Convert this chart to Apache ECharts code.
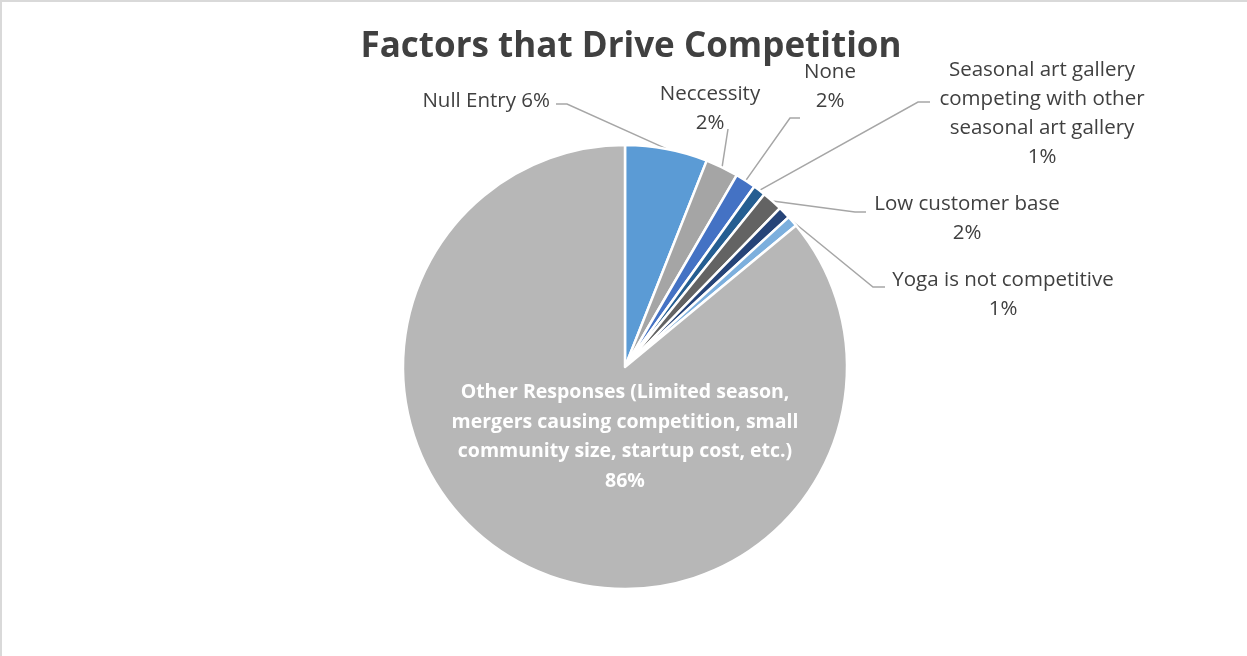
<!DOCTYPE html>
<html>
<head>
<meta charset="utf-8">
<script src="https://cdn.jsdelivr.net/npm/echarts@6/dist/echarts.min.js"></script>
<style>
html,body{margin:0;padding:0;background:#fff;}
#frame{position:absolute;left:0;top:0;width:1247px;height:656px;border-top:2px solid #d9d9d9;border-left:2px solid #d9d9d9;box-sizing:border-box;}
#chart{position:absolute;left:0;top:0;width:1247px;height:656px;}
</style>
</head>
<body>
<div id="chart"></div>
<div id="frame"></div>
<script>
const titleText = 'Factors that Drive Competition';
const categories = [
  'Null Entry',
  'Neccessity',
  'None',
  'Seasonal art gallery competing with other seasonal art gallery',
  'Low customer base',
  'Other',
  'Yoga is not competitive',
  'Other Responses (Limited season, mergers causing competition, small community size, startup cost, etc.)'
];
const values = [6.0, 2.4, 1.5, 0.9, 1.5, 0.9, 0.8, 86.0];

// presentation only
const colors = ['#5B9BD5','#A5A5A5','#4472C4','#255E91','#636363','#264478','#7CAFDD','#B7B7B7'];
const labelText = [
  n => n + ' ' + '{p}',
  n => n + '\n{p}',
  n => n + '\n{p}',
  n => 'Seasonal art gallery\ncompeting with other\nseasonal art gallery\n{p}',
  n => n + '\n{p}',
  null,
  n => n + '\n{p}',
  n => 'Other Responses (Limited season,\nmergers causing competition, small\ncommunity size, startup cost, etc.)\n{p}'
];
const labelPos = [
  {x:550, y:101, align:'right', elbow:[567,104], end:[556,104]},
  {x:710, y:109, align:'center', elbow:[728,129], end:[728,129]},
  {x:830, y:87, align:'center', elbow:[790,118], end:[800,118]},
  {x:1042, y:114, align:'center', elbow:[918,102], end:[930,102]},
  {x:967, y:219, align:'center', elbow:[855,212], end:[866,212]},
  null,
  {x:1003, y:295, align:'center', elbow:[873,287], end:[885,287]},
  {x:625, y:437, align:'center'}
];

const chart = echarts.init(document.getElementById('chart'), null, {renderer:'canvas'});
const data = categories.map((c, i) => {
  const item = {name: c, value: values[i], itemStyle: {color: colors[i]}};
  if (i === 7) {
    item.label = {position: 'inside', color: '#ffffff', fontWeight: 'bold', fontSize: 19.5, lineHeight: 29.5};
    item.labelLine = {show: false};
  }
  if (i === 5) {
    item.label = {show: false};
    item.labelLine = {show: false};
  }
  return item;
});

chart.setOption({
  animation: false,
  title: {
    text: titleText,
    left: 626, top: 25, textAlign: 'center',
    textStyle: {fontFamily: 'Open Sans', fontWeight: 'bold', fontSize: 35, color: '#404040'}
  },
  series: [{
    type: 'pie',
    center: [625, 367],
    radius: 222,
    startAngle: 90,
    clockwise: true,
    avoidLabelOverlap: false,
    itemStyle: {borderColor: '#ffffff', borderWidth: 2.5},
    label: {
      show: true,
      position: 'outside',
      fontFamily: 'Open Sans',
      fontSize: 20.5,
      lineHeight: 29,
      color: '#404040',
      align: 'center',
      formatter: p => {
        const f = labelText[p.dataIndex];
        if (!f) return '';
        return f(p.name).replace('{p}', Math.round(p.value) + '%');
      }
    },
    labelLine: {show: true, lineStyle: {color: '#A6A6A6', width: 1.5}},
    labelLayout: function (params) {
      const lp = labelPos[params.dataIndex];
      if (!lp) return {};
      const res = {x: lp.x, y: lp.y, align: lp.align, verticalAlign: 'middle'};
      if (lp.elbow && params.labelLinePoints) {
        res.labelLinePoints = [params.labelLinePoints[0], lp.elbow, lp.end];
      }
      return res;
    },
    data: data
  }]
});
</script>
</body>
</html>
